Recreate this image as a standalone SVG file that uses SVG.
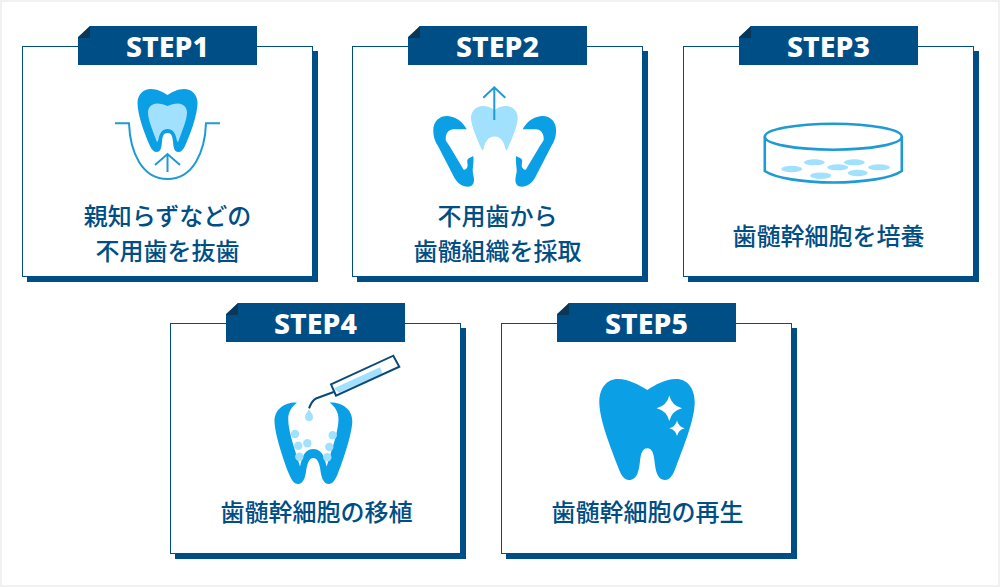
<svg xmlns="http://www.w3.org/2000/svg" width="1000" height="587" viewBox="0 0 1000 587">
<style>
.shadow{fill:#004e86}
.card{fill:#fff;stroke:#004e86;stroke-width:1}
.tab{fill:#004e86}
.fold{fill:#0b3658}
.step{font-family:"Noto Sans","Liberation Sans",sans-serif;font-weight:800;font-size:28.500px;fill:#fff;text-anchor:middle}
.label{font-family:"Noto Sans CJK JP","Noto Sans",sans-serif;font-weight:500;font-size:24px;fill:#004e86;text-anchor:middle}
.blue{fill:#0b9fe6}
.light{fill:#a2e1fd}
.line{fill:none;stroke:#1e9ad6;stroke-width:2}
.dish{fill:none;stroke:#1e9ad6;stroke-width:2.6}
.navy{fill:none;stroke:#0b4a78;stroke-width:2}
</style>
<rect width="1000" height="587" fill="#f1f1f1"/>
<rect x="2" y="2" width="996" height="583" fill="#fff"/>
<g id="connectors"/>
<g id="step1">
<rect class="shadow" x="27" y="51" width="291" height="231"/>
<rect class="card" x="22.5" y="46.5" width="290" height="230"/>
<path class="tab" d="M90 26H257V65H78V37Z"/><path class="fold" d="M90 26V38H78Z"/>
<text class="step" x="167.500" y="57">STEP1</text>
<path class="line" d="M115 123.300H129C130 152 142 179 167.500 179S205 152 206 123.300H220"/>
<path class="line" d="M167.500 172V154M155 165L167.500 154L180 165"/>
<path class="blue" d="M167.500 95C172 92 178 89 184 89C192 89 197.500 95 197.500 103C197.500 115 190 135 185 146C183 150 181 152 178.500 152C174 152 173.500 147 173 142C172.500 136 171.500 133 167.500 133S162.500 136 162 142C161.500 147 161 152 156.500 152C154 152 152 150 150 146C145 135 137.500 115 137.500 103C137.500 95 143 89 151 89C157 89 163 92 167.500 95Z"/>
<path class="light" d="M167.500 106C171 104.500 174 103.500 178 103.500C183 103.500 187 107 187 112.500C187 120 182 131 178.500 141C177.500 143 177 141 176.500 139C175.500 133 172.500 129 167.500 129S159.500 133 158.500 139C158 141 157.500 143 156.500 141C153 131 148 120 148 112.500C148 107 152 103.500 157 103.500C161 103.500 164 104.500 167.500 106Z"/>
<text class="label" x="167.500" y="225">親知らずなどの</text>
<text class="label" x="167.500" y="260">不用歯を抜歯</text>
</g>
<g id="step2">
<rect class="shadow" x="357" y="51" width="291" height="231"/>
<rect class="card" x="352.500" y="46.500" width="290" height="230"/>
<path class="tab" d="M420 26H587V65H408V37Z"/><path class="fold" d="M420 26V38H408Z"/>
<text class="step" x="497.500" y="57">STEP2</text>
<path class="light" d="M494.500 110C498 107.500 502 106 506 106C513 106 517.700 111 517.700 118C517.700 126 511 141 507.500 149C507 150.500 506 150.500 505.500 149C504 142 501 136.500 494.500 136.500S485 142 483.500 149C483 150.500 482 150.500 481.500 149C478 141 471 126 471 118C471 111 476 106 483 106C487 106 491 107.500 494.500 110Z"/>
<path class="line" d="M494.300 120V87.300M483.300 97.700L494.300 87.300L505.300 97.700"/>
<path class="blue" d="M466.700 129.300C464 124 458 117 448 116C439 115.500 433.300 122 433.300 130C433.300 137 435 141 438 146L454.500 178C457.500 183 462 186.700 467.700 186.700C472 186.700 474 184 474 180C474 176 472.500 173 472.700 170C473 165 474 160 473.300 156C471 157.500 468 158 467.300 160C467 163 468.500 166 466.800 168C466 169.500 464.500 170 463.500 169.500L449.500 146C446.500 142 445.500 140.500 445.700 138.300C446 133 449 129.300 453.300 129.300Z"/>
<path class="blue" transform="translate(989.400 0) scale(-1 1)" d="M466.700 129.300C464 124 458 117 448 116C439 115.500 433.300 122 433.300 130C433.300 137 435 141 438 146L454.500 178C457.500 183 462 186.700 467.700 186.700C472 186.700 474 184 474 180C474 176 472.500 173 472.700 170C473 165 474 160 473.300 156C471 157.500 468 158 467.300 160C467 163 468.500 166 466.800 168C466 169.500 464.500 170 463.500 169.500L449.500 146C446.500 142 445.500 140.500 445.700 138.300C446 133 449 129.300 453.300 129.300Z"/>
<text class="label" x="497.500" y="225">不用歯から</text>
<text class="label" x="497.500" y="260">歯髄組織を採取</text>
</g>
<g id="step3">
<rect class="shadow" x="688" y="51" width="291" height="231"/>
<rect class="card" x="683.500" y="46.500" width="290" height="230"/>
<path class="tab" d="M751 26H918V65H739V37Z"/><path class="fold" d="M751 26V38H739Z"/>
<text class="step" x="828.500" y="57">STEP3</text>
<ellipse class="dish" cx="833.300" cy="136.700" rx="68.500" ry="13"/>
<path class="dish" d="M764.800 136.700V171C775 178 803 182.500 833.300 182.500S892 178 901.800 171V136.700"/>
<g class="light">
<ellipse cx="791.700" cy="169" rx="10.500" ry="3.300"/><ellipse cx="814.300" cy="162.300" rx="10.500" ry="3"/><ellipse cx="837.700" cy="167.300" rx="10.500" ry="3"/><ellipse cx="854.300" cy="162.300" rx="10.500" ry="3"/><ellipse cx="820.700" cy="175.700" rx="10.500" ry="3.300"/><ellipse cx="857.700" cy="173" rx="10" ry="3.300"/><ellipse cx="879" cy="167.300" rx="11" ry="3"/>
</g>
<text class="label" x="828.500" y="244.500">歯髄幹細胞を培養</text>
</g>
<g id="step4">
<rect class="shadow" x="175" y="328" width="291" height="231"/>
<rect class="card" x="170.500" y="323.500" width="290" height="230"/>
<path class="tab" d="M238 303H405V342H226V314Z"/><path class="fold" d="M238 303V315H226Z"/>
<text class="step" x="315.500" y="334">STEP4</text>
<path class="blue" d="M297 402.500C285 402 274.500 409 274.500 421C274.500 433 284 462 289 474C291.500 480 294 484 298 484C303 484 305 478 306 472C307 464 309 458 313.300 458S319.700 464 320.700 472C321.700 478 323.700 484 328.700 484C332.700 484 335.200 480 337.700 474C342.700 462 352.300 433 352.300 421C352.300 409 341.700 402 329.700 402.500C335 407 338.500 412 338.500 419C338.500 432 331 452 326.700 466.500C325 461 323.500 449 313.300 449S301.700 461 300 466.500C295.700 452 288.200 432 288.200 419C288.200 412 291.700 407 297 402.500Z"/>
<g class="light">
<circle cx="295" cy="434" r="4.200"/><circle cx="298.300" cy="445.700" r="4.200"/><circle cx="299.300" cy="456.700" r="4.200"/><circle cx="307.300" cy="443.300" r="4.200"/><circle cx="332.700" cy="435.300" r="4.200"/><circle cx="329.300" cy="447" r="4.200"/><circle cx="327.300" cy="457.300" r="4.200"/>
<path d="M309 409.300C310.500 412 313 414 313 417S311 421.300 309 421.300S305 420 305 417S307.500 412 309 409.300Z"/>
<path d="M334 388.300L380 367.300L382.500 373.500L339 392.700Z"/>
</g>
<path class="navy" d="M309 408.300C311 403 313 400 316 398.500L335 391.500"/>
<path class="navy" d="M331 384.300L393.300 355.700L399.300 366.700L336 395.700Z"/>
<text class="label" x="316.500" y="521">歯髄幹細胞の移植</text>
</g>
<g id="step5">
<rect class="shadow" x="506" y="328" width="291" height="231"/>
<rect class="card" x="501.500" y="323.500" width="290" height="230"/>
<path class="tab" d="M569 303H736V342H557V314Z"/><path class="fold" d="M569 303V315H557Z"/>
<text class="step" x="646.500" y="334">STEP5</text>
<path class="blue" d="M647.300 390C655 385 665 379 676 379C688 379 694.700 389 694.700 402C694.700 420 683 448 676 467C673 475 670 480 665 480C657 480 655.500 470 654.500 461C653.500 453 652 448.300 647.300 448.300S641 453 640 461C639 470 637.500 480 629 480C624 480 621 475 618 467C611 448 599.300 420 599.300 402C599.300 389 606 379 618 379C629 379 639 385 647.300 390Z"/>
<path fill="#fff" d="M669.300 395.600Q671.800 405.800 682 408.300Q671.800 410.800 669.300 421Q666.800 410.800 656.600 408.300Q666.800 405.800 669.300 395.600Z"/>
<path fill="#fff" d="M677 420.600Q678.500 426.800 684.700 428.300Q678.500 429.800 677 436Q675.500 429.800 669.300 428.300Q675.500 426.800 677 420.600Z"/>
<text class="label" x="647.500" y="521">歯髄幹細胞の再生</text>
</g>
</svg>
